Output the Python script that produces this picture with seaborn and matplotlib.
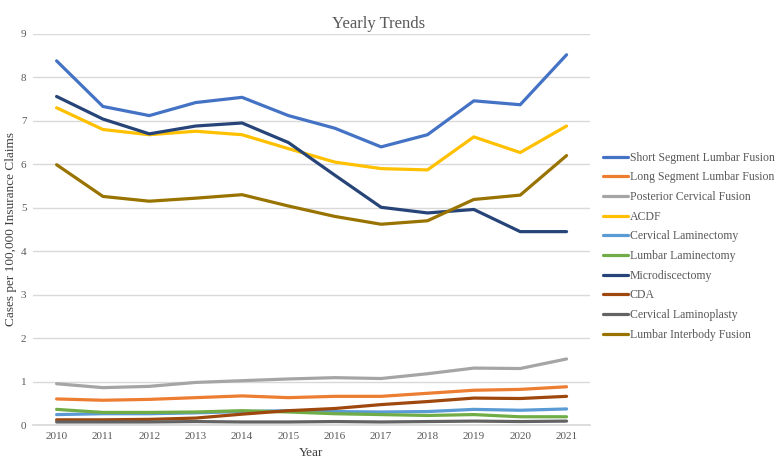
import pandas as pd
import seaborn as sns
import matplotlib.pyplot as plt
import numpy as np

years = list(range(2010, 2022))

short_segment = [8.38, 7.33, 7.12, 7.42, 7.54, 7.12, 6.83, 6.40, 6.68, 7.46, 7.37, 8.52]
long_segment = [0.60, 0.57, 0.59, 0.63, 0.67, 0.63, 0.66, 0.66, 0.73, 0.80, 0.82, 0.88]
posterior_cervical = [0.95, 0.86, 0.89, 0.98, 1.02, 1.06, 1.09, 1.07, 1.18, 1.31, 1.30, 1.52]
acdf = [7.30, 6.80, 6.68, 6.76, 6.68, 6.36, 6.05, 5.90, 5.87, 6.63, 6.27, 6.88]
cervical_laminectomy = [0.24, 0.26, 0.26, 0.28, 0.31, 0.33, 0.31, 0.30, 0.31, 0.36, 0.34, 0.37]
lumbar_laminectomy = [0.36, 0.29, 0.29, 0.30, 0.33, 0.30, 0.26, 0.24, 0.22, 0.24, 0.19, 0.19]
microdiscectomy = [7.56, 7.04, 6.70, 6.88, 6.95, 6.50, 5.75, 5.01, 4.88, 4.96, 4.45, 4.45]
cda = [0.12, 0.12, 0.13, 0.16, 0.25, 0.33, 0.38, 0.47, 0.54, 0.62, 0.61, 0.66]
cervical_laminoplasty = [0.07, 0.07, 0.07, 0.08, 0.07, 0.07, 0.08, 0.07, 0.08, 0.09, 0.08, 0.09]
lumbar_interbody = [5.99, 5.26, 5.15, 5.22, 5.30, 5.04, 4.80, 4.62, 4.70, 5.19, 5.29, 6.20]

series = {
    "Short Segment Lumbar Fusion": short_segment,
    "Long Segment Lumbar Fusion": long_segment,
    "Posterior Cervical Fusion": posterior_cervical,
    "ACDF": acdf,
    "Cervical Laminectomy": cervical_laminectomy,
    "Lumbar Laminectomy": lumbar_laminectomy,
    "Microdiscectomy": microdiscectomy,
    "CDA": cda,
    "Cervical Laminoplasty": cervical_laminoplasty,
    "Lumbar Interbody Fusion": lumbar_interbody,
}
colors = ["#4472C4", "#ED7D31", "#A5A5A5", "#FFC000", "#5B9BD5",
          "#70AD47", "#264478", "#9E480E", "#636363", "#997300"]

df = pd.DataFrame(series, index=years).reset_index(names="Year")
long_df = df.melt(id_vars="Year", var_name="Procedure", value_name="Cases")

sns.set_theme(style="white")
plt.rcParams['font.family'] = ['Liberation Serif', 'DejaVu Serif']

fig = plt.figure(figsize=(7.77, 4.58), dpi=100)
ax = fig.add_axes([0.043, 0.072, 0.716, 0.854])

sns.lineplot(data=long_df, x="Year", y="Cases", hue="Procedure",
             palette=colors, linewidth=2.3, ax=ax)

ax.set_xlim(2009.5, 2021.5)
ax.set_ylim(0, 9)
ax.set_xticks(years)
ax.set_yticks(range(0, 10))
ax.grid(axis="y", color="#d9d9d9", linewidth=1)
ax.set_axisbelow(True)
for s in ["top", "right", "left"]:
    ax.spines[s].set_visible(False)
ax.spines["bottom"].set_color("#d9d9d9")
ax.tick_params(axis="both", length=0, labelsize=8, colors="#595959", pad=5)
ax.set_xlabel("Year", fontsize=9.5, color="#404040", labelpad=4)
ax.set_ylabel("Cases per 100,000 Insurance Claims", fontsize=9.5, color="#404040", labelpad=3)
ax.set_title("Yearly Trends", fontsize=12, color="#595959", pad=4, x=0.62)

ax.legend(loc="center left", bbox_to_anchor=(1.005, 0.457), frameon=False,
          fontsize=8.5, labelcolor="#595959", handlelength=2.1,
          handletextpad=0.15, labelspacing=0.65)

plt.savefig("out.png", dpi=100)
